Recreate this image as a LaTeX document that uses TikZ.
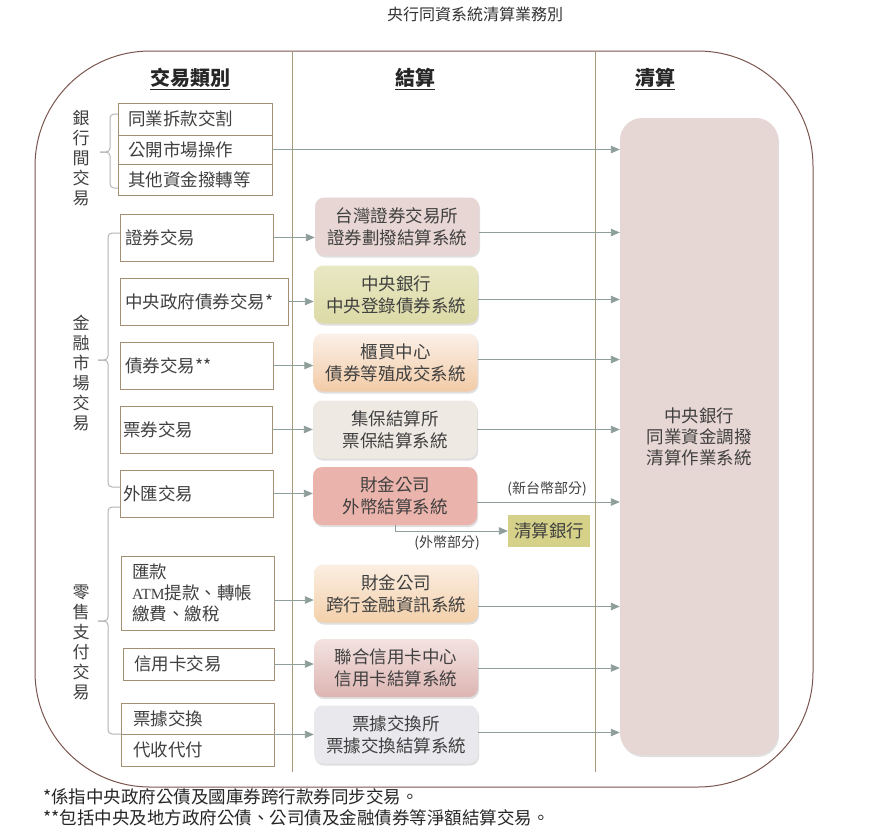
\documentclass[tikz,border=0pt]{standalone}
\usepackage{fontspec}
\setmainfont{Noto Sans CJK TC}
\newfontfamily\atmfont{Liberation Serif}
\usetikzlibrary{arrows.meta,shadows,calc}
\definecolor{txt}{HTML}{404040}
\definecolor{boxc}{HTML}{A38F73}
\definecolor{divc}{HTML}{A89A7A}
\definecolor{outc}{HTML}{7A5550}
\definecolor{arrc}{HTML}{8E9E9A}
\definecolor{bracec}{HTML}{B5B5B5}
\tikzset{
  lbox/.style={draw=boxc, fill=white, line width=0.9pt, inner ysep=0pt, align=left,
    font=\fontsize{17.5}{21}\selectfont, text=txt},
  setbox/.style={rounded corners=9pt, minimum width=164, minimum height=58, align=center,
    font=\fontsize{17.5}{22}\selectfont, text=txt,
    drop shadow={shadow xshift=1pt, shadow yshift=-2pt, opacity=0.25}},
  vlabel/.style={align=center, font=\fontsize{17}{20}\selectfont, text=txt, inner sep=0pt},
  hdr/.style={font=\fontsize{20}{24}\selectfont\bfseries, text=black!85},
  arr/.style={draw=arrc, line width=0.9pt, -{Triangle[length=9pt,width=7.5pt]}},
  brace/.style={draw=bracec, line width=1pt, rounded corners=4pt},
  lbl/.style={font=\fontsize{14}{16}\selectfont, text=txt, inner sep=0pt},
  foot/.style={font=\fontsize{17.5}{20}\selectfont, text=black!85, inner sep=0pt, anchor=west}
}
\begin{document}
\begin{tikzpicture}[x=1pt,y=-1pt]
\useasboundingbox (0,0) rectangle (890,831);
\fill[white] (0,0) rectangle (890,831);

% title
\node[font=\fontsize{16}{18}\selectfont, text=black!80] (title) at (475,14) {央行同資系統清算業務別};

% outer frame and dividers
\draw[outc, line width=1pt, rounded corners=115pt] (35,51) rectangle (813,787);
\draw[divc, line width=1pt] (292,51) -- (292,772);
\draw[divc, line width=1pt] (595,51) -- (595,772);

% headers
\node[hdr] (h1) at (190,79) {\underline{交易類別}};
\node[hdr] (h2) at (415,79) {\underline{結算}};
\node[hdr] (h3) at (655,79) {\underline{清算}};

% group labels
\node[vlabel] (g1) at (81,158) {銀\\行\\間\\交\\易};
\node[vlabel] (g2) at (81,373) {金\\融\\市\\場\\交\\易};
\node[vlabel] (g3) at (81,642) {零\\售\\支\\付\\交\\易};

% braces
\draw[brace] (118,114) -- (110,114) -- (110,152) -- (100,152);
\draw[brace] (100,152) -- (110,152) -- (110,188) -- (118,188);
\draw[brace] (120,233) -- (108,233) -- (108,360) -- (98,360);
\draw[brace] (98,360) -- (108,360) -- (108,487) -- (120,487);
\draw[brace] (120,507) -- (108,507) -- (108,621) -- (98,621);
\draw[brace] (98,621) -- (108,621) -- (108,734) -- (121,734);

% left boxes
\node[lbox, inner xsep=10pt, text width=134pt, minimum height=32] (L1a) at (195,119) {同業拆款交割};
\node[lbox, inner xsep=10pt, text width=134pt, minimum height=29] (L1b) at (195,149.5) {公開市場操作};
\node[lbox, inner xsep=10pt, text width=134pt, minimum height=31] (L1c) at (195,179.5) {其他資金撥轉等};
\node[lbox, inner xsep=5pt, text width=143pt, minimum height=47] (L2) at (196.5,237.5) {證券交易};
\node[lbox, inner xsep=5pt, text width=158pt, minimum height=47] (L3) at (204,301.5) {中央政府債券交易*};
\node[lbox, inner xsep=5pt, text width=143pt, minimum height=47] (L4) at (196.5,365.5) {債券交易**};
\node[lbox, inner xsep=3pt, text width=146pt, minimum height=47] (L5) at (196,429.5) {票券交易};
\node[lbox, inner xsep=3pt, text width=147pt, minimum height=47] (L6) at (196.5,493.5) {外匯交易};
\node[lbox, inner xsep=11pt, text width=131pt, minimum height=74] (L7) at (197.5,593) {匯款\\{\atmfont\fontsize{15.5}{21}\selectfont ATM}提款、轉帳\\繳費、繳稅};
\node[lbox, inner xsep=11pt, text width=129pt, minimum height=32] (L8) at (198.5,664) {信用卡交易};
\node[lbox, inner xsep=12pt, text width=129pt, minimum height=31] (L9a) at (197.5,718.5) {票據交換};
\node[lbox, inner xsep=12pt, text width=129pt, minimum height=32] (L9b) at (197.5,750) {代收代付};

% clearing box
\node[rounded corners=22pt, fill={rgb,255:red,231;green,215;blue,212}, minimum width=158, minimum height=637,
  align=center, font=\fontsize{17.5}{21}\selectfont, text=txt,
  drop shadow={shadow xshift=1pt, shadow yshift=-2pt, opacity=0.25}] (clr) at (699,436.5)
  {中央銀行\\同業資金調撥\\清算作業系統};

% settlement boxes
\node[setbox, fill={rgb,255:red,231;green,214;blue,211}] (s1) at (397,226.5) {台灣證券交易所\\證券劃撥結算系統};
\node[setbox, top color={rgb,255:red,233;green,232;blue,196}, bottom color={rgb,255:red,220;green,218;blue,166}] (s2) at (396,294.5) {中央銀行\\中央登錄債券系統};
\node[setbox, top color={rgb,255:red,251;green,240;blue,232}, bottom color={rgb,255:red,242;green,203;blue,166}] (s3) at (395.5,362.5) {櫃買中心\\債券等殖成交系統};
\node[setbox, fill={rgb,255:red,238;green,233;blue,227}] (s4) at (395,429.5) {集保結算所\\票保結算系統};
\node[setbox, fill={rgb,255:red,234;green,179;blue,171}] (s5) at (395,496) {財金公司\\外幣結算系統};
\node[setbox, top color={rgb,255:red,251;green,238;blue,226}, bottom color={rgb,255:red,243;green,208;blue,170}] (s6) at (396,593.5) {財金公司\\跨行金融資訊系統};
\node[setbox, top color={rgb,255:red,243;green,227;blue,225}, bottom color={rgb,255:red,221;green,181;blue,178}] (s7) at (396,668) {聯合信用卡中心\\信用卡結算系統};
\node[setbox, fill={rgb,255:red,233;green,232;blue,237}] (s8) at (396,734.5) {票據交換所\\票據交換結算系統};

\node[fill={rgb,255:red,213;green,209;blue,137}, minimum width=82, minimum height=32,
  font=\fontsize{17.5}{20}\selectfont, text=txt, inner sep=0pt] (bank) at (549,531) {清算銀行};

% labels
\node[lbl] (lb1) at (547,489) {(新台幣部分)};
\node[lbl] (lb2) at (447,543) {(外幣部分)};

% arrow start points
\coordinate (a7) at ($(L7.east)+(0,7)$);
\coordinate (b1) at ($(s1.east)+(0,6)$);
\coordinate (b2) at ($(s2.east)+(0,5)$);
\coordinate (b3) at ($(s3.east)+(0,-3)$);
\coordinate (b5) at ($(s5.east)+(0,6)$);
\coordinate (b6) at ($(s6.east)+(0,13)$);
\coordinate (b8) at ($(s8.east)+(0,-2)$);

% arrows left -> settlement
\draw[arr] (L1b.east) -- (L1b.east -| clr.west);
\draw[arr] (L2.east) -- (L2.east -| s1.west);
\draw[arr] (L3.east) -- (L3.east -| s2.west);
\draw[arr] (L4.east) -- (L4.east -| s3.west);
\draw[arr] (L5.east) -- (L5.east -| s4.west);
\draw[arr] (L6.east) -- (L6.east -| s5.west);
\draw[arr] (a7) -- (a7 -| s6.west);
\draw[arr] (L8.east) -- (L8.east -| s7.west);
\draw[arr] (L9a.south east) -- (L9a.south east -| s8.west);

% arrows settlement -> clearing
\draw[arr] (b1) -- (b1 -| clr.west);
\draw[arr] (b2) -- (b2 -| clr.west);
\draw[arr] (b3) -- (b3 -| clr.west);
\draw[arr] (s4.east) -- (s4.east -| clr.west);
\draw[arr] (b5) -- (b5 -| clr.west);
\draw[arr] (b6) -- (b6 -| clr.west);
\draw[arr] (s7.east) -- (s7.east -| clr.west);
\draw[arr] (b8) -- (b8 -| clr.west);
\draw[arr] (s5.south) |- (bank.west);

% footnotes
\node[foot] (f1) at (43,797) {*係指中央政府公債及國庫券跨行款券同步交易。};
\node[foot] (f2) at (43,818) {**包括中央及地方政府公債、公司債及金融債券等淨額結算交易。};
\end{tikzpicture}
\end{document}
